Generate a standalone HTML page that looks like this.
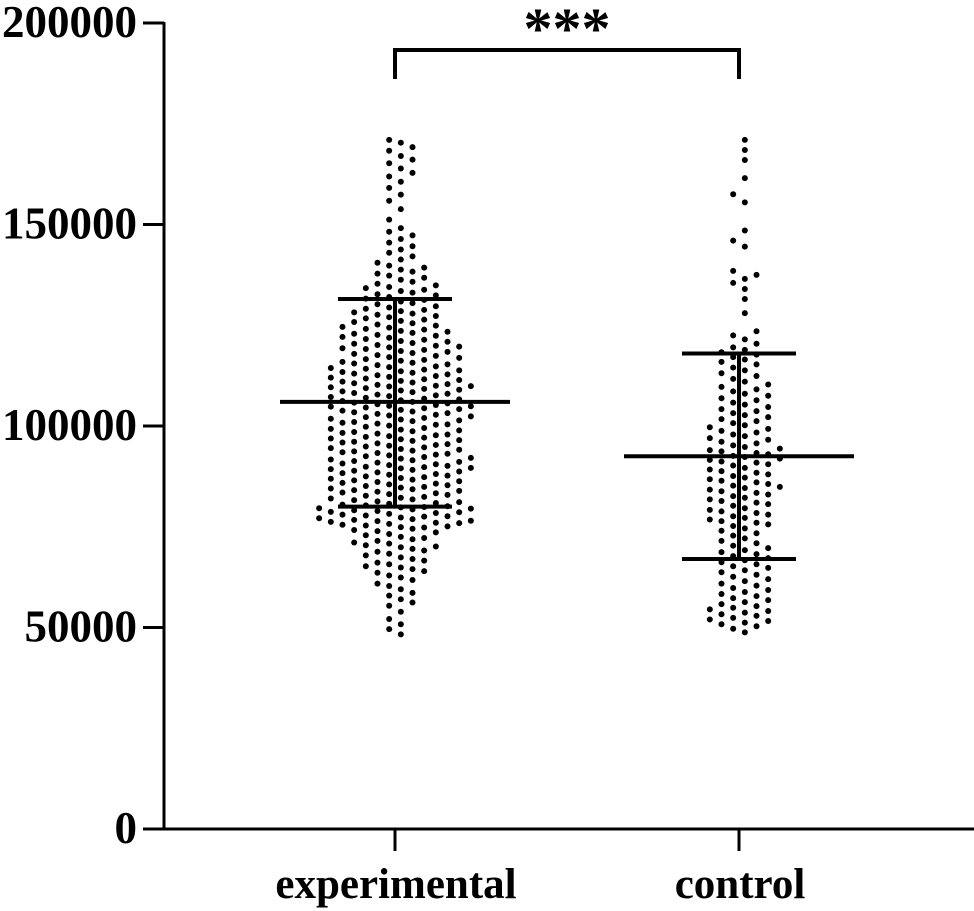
<!DOCTYPE html>
<html><head><meta charset="utf-8"><style>
html,body{margin:0;padding:0;background:#fff;}
svg{display:block;}
text{font-family:"Liberation Serif",serif;font-weight:bold;fill:#000;}
</style></head><body>
<svg id="chart" width="974" height="911" viewBox="0 0 974 911"></svg>
<script>
const categories = ["experimental","control"];
const yTicks = [0,50000,100000,150000,200000];
const experimentalValues = [48.3,49.6,50.8,52.1,53.9,55.4,56.2,57.0,57.9,58.6,59.5,60.3,60.9,61.8,62.4,62.9,63.6,64.0,64.5,64.9,65.2,65.7,66.1,66.6,67.0,67.4,67.9,68.3,68.8,69.1,69.5,69.9,70.1,70.4,70.8,71.1,71.5,71.9,72.2,72.5,72.9,73.2,73.6,73.9,74.2,74.5,74.8,74.9,75.1,75.3,75.5,75.7,75.9,76.0,76.2,76.4,76.5,76.7,76.9,77.1,77.3,77.5,77.6,77.8,78.0,78.2,78.4,78.6,78.7,78.9,79.1,79.3,79.5,79.6,79.8,79.9,80.1,80.3,80.5,80.7,80.9,81.1,81.3,81.6,81.8,82.0,82.2,82.4,82.7,82.9,83.1,83.3,83.5,83.7,83.9,84.1,84.3,84.5,84.7,84.9,85.1,85.3,85.5,85.7,85.9,86.1,86.3,86.5,86.7,86.9,87.1,87.3,87.5,87.7,87.9,88.1,88.3,88.5,88.7,88.9,89.1,89.3,89.5,89.6,89.8,89.9,90.1,90.3,90.5,90.7,90.9,91.1,91.3,91.5,91.7,91.9,92.1,92.3,92.5,92.7,92.9,93.1,93.3,93.5,93.7,93.9,94.1,94.3,94.5,94.7,94.9,95.1,95.3,95.5,95.7,95.9,96.1,96.3,96.5,96.7,96.9,97.1,97.3,97.5,97.7,97.9,98.1,98.3,98.5,98.7,98.9,99.1,99.3,99.5,99.8,100.1,100.3,100.4,100.6,100.8,101.0,101.2,101.4,101.6,101.8,102.0,102.2,102.4,102.6,102.8,103.0,103.2,103.4,103.6,103.8,104.0,104.2,104.4,104.6,104.8,104.9,105.0,105.2,105.4,105.6,105.8,106.0,106.2,106.4,106.6,106.8,107.0,107.2,107.4,107.6,107.8,108.0,108.2,108.4,108.6,108.8,109.0,109.2,109.4,109.6,109.8,109.9,110.0,110.2,110.4,110.6,110.8,111.0,111.2,111.4,111.6,111.8,112.0,112.2,112.4,112.6,112.8,113.0,113.2,113.4,113.6,113.8,114.0,114.2,114.4,114.6,114.8,115.1,115.3,115.5,115.7,115.9,116.2,116.4,116.6,116.9,117.1,117.4,117.6,117.9,118.1,118.4,118.6,118.9,119.1,119.3,119.5,119.7,119.9,120.1,120.4,120.6,120.9,121.1,121.4,121.6,121.9,122.1,122.4,122.6,122.9,123.1,123.4,123.6,123.9,124.1,124.4,124.6,124.9,125.2,125.5,125.8,126.1,126.4,126.7,127.0,127.3,127.6,127.9,128.2,128.5,128.8,129.1,129.4,129.7,130.2,130.5,130.9,131.3,131.6,132.0,132.4,132.7,133.1,133.5,133.8,134.2,134.5,134.9,135.3,135.8,136.3,136.8,137.3,137.8,138.3,138.8,139.3,139.8,140.5,141.3,142.1,143.0,143.8,144.6,145.5,146.4,147.3,148.2,149.1,151.2,153.8,155.9,157.4,159.1,160.6,161.9,162.8,163.9,165.2,166.1,167.0,168.3,169.2,170.3,171.0];
const controlValues = [48.8,49.7,50.3,50.8,51.2,51.6,52.0,52.4,52.9,53.3,53.7,54.1,54.5,54.9,55.3,55.8,56.3,56.8,57.3,57.8,58.3,58.8,59.3,59.8,60.4,60.9,61.5,62.0,62.6,63.1,63.7,64.2,64.8,65.2,65.7,66.2,66.7,67.2,67.7,68.2,68.7,69.2,69.7,70.3,70.9,71.5,72.1,72.8,73.4,74.0,74.6,75.2,75.6,76.0,76.4,76.8,77.2,77.6,78.0,78.4,78.8,79.2,79.6,80.2,80.6,81.0,81.4,81.8,82.2,82.6,83.0,83.4,83.8,84.2,84.6,84.9,85.2,85.6,86.0,86.4,86.8,87.2,87.6,88.0,88.4,88.8,89.2,89.6,90.2,90.5,90.9,91.2,91.6,91.9,92.3,92.6,93.0,93.3,93.7,94.0,94.4,94.8,95.2,95.7,96.1,96.6,97.0,97.5,97.9,98.4,98.8,99.3,99.7,100.2,100.7,101.2,101.7,102.2,102.7,103.2,103.7,104.2,104.7,105.3,105.8,106.4,106.9,107.5,108.0,108.6,109.1,109.7,110.3,111.0,111.7,112.4,113.1,113.8,114.5,115.3,115.9,116.5,117.1,117.7,118.3,118.9,119.5,120.4,121.5,122.5,123.5,128.0,131.5,134.0,135.5,136.5,137.5,138.5,144.5,146.0,148.5,155.5,157.5,161.5,166.0,168.5,171.0];
const means = [106000, 92500];
const sdUpper = [131500, 118000];
const sdLower = [80000, 67000];
const significance = "***";

const NS="http://www.w3.org/2000/svg";
const svg=document.getElementById('chart');
const Y0=829, Y1=23, VMAX=200000;
const yScale=v=>Y0-(v/VMAX)*(Y0-Y1);
const xCenters=[395,739];
const xScale=i=>xCenters[i];
function mk(tag,attrs,parent){const e=document.createElementNS(NS,tag);for(const k in attrs)e.setAttribute(k,attrs[k]);(parent||svg).appendChild(e);return e;}

const ya=mk('line',{x1:164,y1:Y1-1,x2:164,y2:Y0+1.5,stroke:'#000','stroke-width':3});


const xa=mk('line',{x1:162.5,y1:Y0,x2:974,y2:Y0,stroke:'#000','stroke-width':3});


yTicks.forEach(t=>{
  const y=yScale(t);
  const tl=mk('line',{x1:143,y1:y,x2:164,y2:y,stroke:'#000','stroke-width':3});
  
  
  const tx=mk('text',{x:137,y:y+14,'text-anchor':'end','font-size':45});
  tx.textContent=String(t);
  
  
});
categories.forEach((c,i)=>{
  const x=xScale(i);
  const tl=mk('line',{x1:x,y1:Y0,x2:x,y2:851,stroke:'#000','stroke-width':3});
  
  
  const tx=mk('text',{x:x+1,y:898,'text-anchor':'middle','font-size':43});
  tx.textContent=c;
  
  
});

const COLW=11.67, MINDY=9.5, R=3;
[experimentalValues,controlValues].forEach((vals,gi)=>{
  const g=mk('g',{});
  
  
  const sorted=vals.slice().sort((a,b)=>a-b);
  const last={};
  sorted.forEach(v=>{
    const y=yScale(v*1000);
    let slot=null;
    for(let k=0;k<60;k++){
      const s=(k%2===0)?(k/2+0.5):-(Math.floor(k/2)+0.5);
      if(last[s]===undefined||last[s]-y>=MINDY){slot=s;break;}
    }
    last[slot]=y;
    const c=mk('circle',{cx:xScale(gi)+slot*COLW,cy:y,r:R,fill:'#000'},g);
    
    
  });
});

categories.forEach((c,i)=>{
  const x=xScale(i);
  const v=mk('line',{x1:x,y1:yScale(sdUpper[i]),x2:x,y2:yScale(sdLower[i]),stroke:'#000','stroke-width':4});
  
  
  const m=mk('line',{x1:x-115,y1:yScale(means[i]),x2:x+115,y2:yScale(means[i]),stroke:'#000','stroke-width':4});
  
  
  [sdUpper[i],sdLower[i]].forEach(s=>{
    const l=mk('line',{x1:x-57,y1:yScale(s),x2:x+57,y2:yScale(s),stroke:'#000','stroke-width':4});
    
    
  });
});

const br=mk('polyline',{points:`${xScale(0)},79 ${xScale(0)},50 ${xScale(1)},50 ${xScale(1)},79`,fill:'none',stroke:'#000','stroke-width':4});


const st=mk('text',{x:(xScale(0)+xScale(1))/2,y:48,'text-anchor':'middle','font-size':58});
st.textContent=significance;


</script>
</body></html>
